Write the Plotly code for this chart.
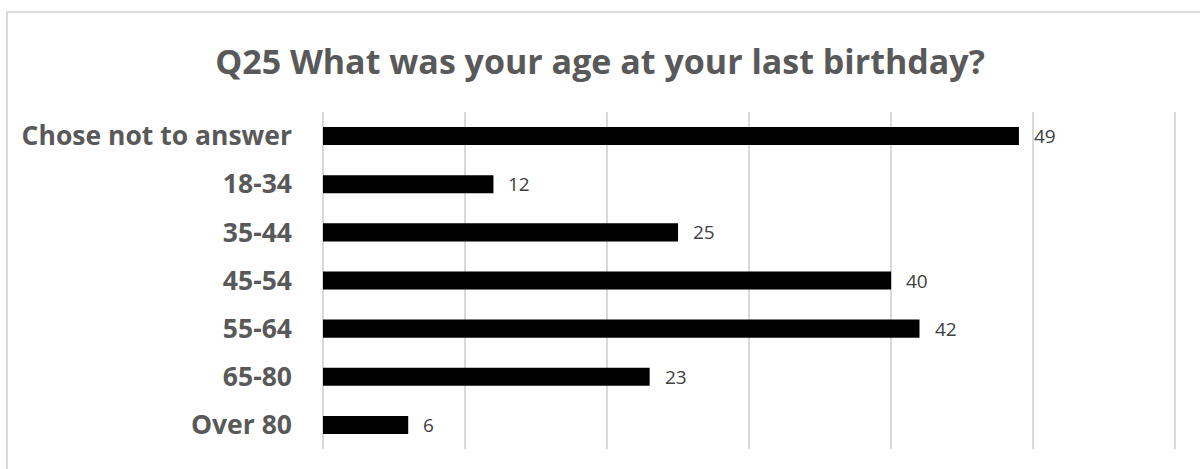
import plotly.graph_objects as go

categories = ["Chose not to answer", "18-34", "35-44", "45-54", "55-64", "65-80", "Over 80"]
counts = [49, 12, 25, 40, 42, 23, 6]
title_text = "Q25 What was your age at your last birthday?"

W, H = 1200, 469
x_max = 60.2          # a little past 60 so the last gridline is drawn
px_per_unit = 14.2
L, T, B = 323, 112, 20
R = W - L - round(x_max * px_per_unit)
pw = W - L - R
ph = H - T - B

fig = go.Figure(go.Bar(
    x=counts,
    y=categories,
    orientation="h",
    marker=dict(color="#000000", line=dict(width=0)),
    hoverinfo="x+y",
))

# value labels just past the end of each bar
for cat, c in zip(categories, counts):
    fig.add_annotation(x=c, y=cat, text=str(c), showarrow=False,
                       xanchor="left", xshift=13,
                       font=dict(family="Open Sans", size=19, color="#404040"))

# light grey chart border (runs off the right/bottom edges like the reference)
fig.add_shape(type="rect", xref="paper", yref="paper",
              x0=(7 - L) / pw, x1=(W + 5 - L) / pw,
              y0=-(B + 5) / ph, y1=1 + (T - 12) / ph,
              line=dict(color="#d9d9d9", width=2), layer="below")

fig.update_layout(
    width=W, height=H,
    margin=dict(l=L, r=R, t=T, b=B, autoexpand=False),
    paper_bgcolor="white",
    plot_bgcolor="white",
    bargap=0.625,
    showlegend=False,
    title=dict(text="<b>" + title_text + "</b>", x=0.5, xref="container",
               y=1 - 62 / H, yanchor="middle", automargin=False,
               font=dict(family="Open Sans", size=34, color="#595959")),
    xaxis=dict(range=[0, x_max], dtick=10, showgrid=True, gridcolor="#d9d9d9",
               gridwidth=2, showticklabels=False, zeroline=True,
               zerolinecolor="#d9d9d9", zerolinewidth=2, automargin=False),
    yaxis=dict(categoryorder="array", categoryarray=categories,
               autorange="reversed", showgrid=False, ticks="", automargin=False,
               tickfont=dict(family="Open Sans", size=26.5, color="#595959",
                             weight="bold"),
               ticklabelstandoff=30),
    font=dict(family="Open Sans"),
)

# drop the default page margin so the figure sits at the window's corner
fig.write_html("out.html", config={"displayModeBar": False},
               post_script="document.body.style.margin='0';")
